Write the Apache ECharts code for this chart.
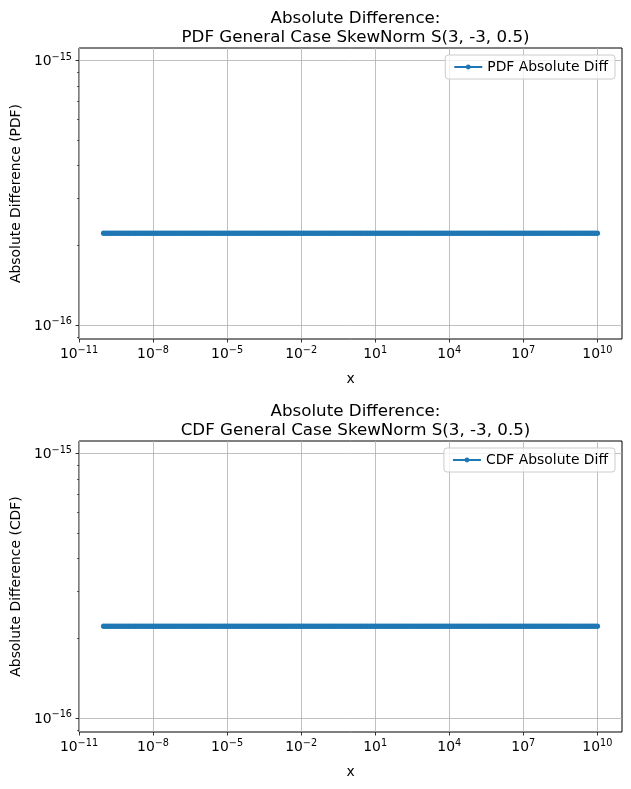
<!DOCTYPE html>
<html>
<head>
<meta charset="utf-8">
<script src="https://cdn.jsdelivr.net/npm/echarts@6/dist/echarts.min.js"></script>
<style>
  html, body { margin: 0; padding: 0; background: #fff; }
  #chart { width: 631px; height: 789px; }
</style>
</head>
<body>
<div id="chart"></div>
<script>
// x positions (log10 of x) of the sampled points, 1e-10 .. 1e10
var xExp = [
  -10, -9.9, -9.8, -9.7, -9.6, -9.5, -9.4, -9.3, -9.2, -9.1,
  -9, -8.9, -8.8, -8.7, -8.6, -8.5, -8.4, -8.3, -8.2, -8.1,
  -8, -7.9, -7.8, -7.7, -7.6, -7.5, -7.4, -7.3, -7.2, -7.1,
  -7, -6.9, -6.8, -6.7, -6.6, -6.5, -6.4, -6.3, -6.2, -6.1,
  -6, -5.9, -5.8, -5.7, -5.6, -5.5, -5.4, -5.3, -5.2, -5.1,
  -5, -4.9, -4.8, -4.7, -4.6, -4.5, -4.4, -4.3, -4.2, -4.1,
  -4, -3.9, -3.8, -3.7, -3.6, -3.5, -3.4, -3.3, -3.2, -3.1,
  -3, -2.9, -2.8, -2.7, -2.6, -2.5, -2.4, -2.3, -2.2, -2.1,
  -2, -1.9, -1.8, -1.7, -1.6, -1.5, -1.4, -1.3, -1.2, -1.1,
  -1, -0.9, -0.8, -0.7, -0.6, -0.5, -0.4, -0.3, -0.2, -0.1,
  0, 0.1, 0.2, 0.3, 0.4, 0.5, 0.6, 0.7, 0.8, 0.9,
  1, 1.1, 1.2, 1.3, 1.4, 1.5, 1.6, 1.7, 1.8, 1.9,
  2, 2.1, 2.2, 2.3, 2.4, 2.5, 2.6, 2.7, 2.8, 2.9,
  3, 3.1, 3.2, 3.3, 3.4, 3.5, 3.6, 3.7, 3.8, 3.9,
  4, 4.1, 4.2, 4.3, 4.4, 4.5, 4.6, 4.7, 4.8, 4.9,
  5, 5.1, 5.2, 5.3, 5.4, 5.5, 5.6, 5.7, 5.8, 5.9,
  6, 6.1, 6.2, 6.3, 6.4, 6.5, 6.6, 6.7, 6.8, 6.9,
  7, 7.1, 7.2, 7.3, 7.4, 7.5, 7.6, 7.7, 7.8, 7.9,
  8, 8.1, 8.2, 8.3, 8.4, 8.5, 8.6, 8.7, 8.8, 8.9,
  9, 9.1, 9.2, 9.3, 9.4, 9.5, 9.6, 9.7, 9.8, 9.9,
  10
];
// absolute differences (flat at machine epsilon)
var pdfDiffValue = 2.22e-16;
var cdfDiffValue = 2.22e-16;

var xTicks = [1e-11, 1e-8, 1e-5, 1e-2, 1e1, 1e4, 1e7, 1e10];
var yTicks = [1e-16, 1e-15];
var yMinorTicks = [9e-17, 2e-16, 3e-16, 4e-16, 5e-16, 6e-16, 7e-16, 8e-16, 9e-16];

var titles = [
  "Absolute Difference:\nPDF General Case SkewNorm S(3, -3, 0.5)",
  "Absolute Difference:\nCDF General Case SkewNorm S(3, -3, 0.5)"
];
var yNames = ["Absolute Difference (PDF)", "Absolute Difference (CDF)"];
var seriesNames = ["PDF Absolute Diff", "CDF Absolute Diff"];

var pdfData = xExp.map(function (e) { return [Math.pow(10, e), pdfDiffValue]; });
var cdfData = xExp.map(function (e) { return [Math.pow(10, e), cdfDiffValue]; });

var FONT = "DejaVu Sans";
var blue = "#1f77b4";

function powLabel(v) {
  var e = Math.round(Math.log10(v));
  return "{b|10}{e|" + String(e).replace("-", "\u2212") + "}";
}
var richSup = {
  b: { fontSize: 13.9, fontFamily: FONT, color: "#000", verticalAlign: "bottom" },
  e: { fontSize: 9.7, fontFamily: FONT, color: "#000", verticalAlign: "bottom", padding: [0, 0, 6, 0] }
};

var grids = [
  { left: 79, right: 9, top: 48, height: 291 },
  { left: 79, right: 9, top: 441, height: 291 }
];

var option = {
  animation: false,
  textStyle: { fontFamily: FONT },
  title: [],
  legend: [],
  grid: [],
  xAxis: [],
  yAxis: [],
  series: []
};

[0, 1].forEach(function (i) {
  var g = grids[i];
  option.grid.push({
    left: g.left, right: g.right, top: g.top, height: g.height,
    show: true, borderColor: "#000", borderWidth: 1, backgroundColor: "transparent"
  });
  option.title.push({
    text: titles[i],
    left: 350.5, top: g.top - 44, textAlign: "center",
    textStyle: { fontFamily: FONT, fontSize: 16.7, fontWeight: "normal", color: "#000", lineHeight: 19 }
  });
  option.legend.push({
    data: [seriesNames[i]],
    right: 16, top: g.top + 7,
    orient: "vertical",
    padding: [5, 7, 5, 8],
    itemWidth: 28, itemHeight: 6,
    borderColor: "#cccccc", borderWidth: 1, borderRadius: 3,
    backgroundColor: "rgba(255,255,255,0.8)",
    textStyle: { fontFamily: FONT, fontSize: 13.9, color: "#000" }
  });
  option.xAxis.push({
    type: "log", logBase: 10, gridIndex: i,
    min: 1e-11, max: 1e11,
    name: "x", nameLocation: "middle", nameGap: 33,
    nameTextStyle: { fontFamily: FONT, fontSize: 13.9, color: "#000" },
    axisLine: { show: false },
    axisTick: { show: true, length: 3.5, customValues: xTicks, lineStyle: { color: "#000", width: 0.8 } },
    axisLabel: { margin: 6, customValues: xTicks, formatter: powLabel, rich: richSup },
    splitLine: { show: true, lineStyle: { color: "#b0b0b0", width: 0.8 } },
    minorTick: { show: false }
  });
  option.yAxis.push({
    type: "log", logBase: 10, gridIndex: i, position: "left",
    min: 8.85e-17, max: 1.114e-15,
    name: yNames[i], nameLocation: "middle", nameGap: 54, nameRotate: 90,
    nameTextStyle: { fontFamily: FONT, fontSize: 13.9, color: "#000" },
    axisLine: { show: false },
    axisTick: { show: true, length: 3.5, customValues: yTicks, lineStyle: { color: "#000", width: 0.8 } },
    axisLabel: { margin: 7, customValues: yTicks, formatter: powLabel, rich: richSup },
    splitLine: { show: true, lineStyle: { color: "#b0b0b0", width: 0.8 } }
  });
  // minor ticks on the log y axis
  option.yAxis.push({
    type: "log", logBase: 10, gridIndex: i, position: "left", offset: 0,
    min: 8.85e-17, max: 1.114e-15,
    axisLine: { show: false },
    axisTick: { show: true, length: 2, customValues: yMinorTicks, lineStyle: { color: "#000", width: 0.6 } },
    axisLabel: { show: false },
    splitLine: { show: false }
  });
  option.series.push({
    name: seriesNames[i],
    type: "line",
    xAxisIndex: i, yAxisIndex: i * 2,
    data: i === 0 ? pdfData : cdfData,
    symbol: "circle", symbolSize: 5.5, showAllSymbol: true,
    itemStyle: { color: blue },
    lineStyle: { color: blue, width: 1.5 },
    emphasis: { disabled: true }
  });
});

var chart = echarts.init(document.getElementById("chart"), null, { renderer: "canvas" });
chart.setOption(option);
</script>
</body>
</html>
